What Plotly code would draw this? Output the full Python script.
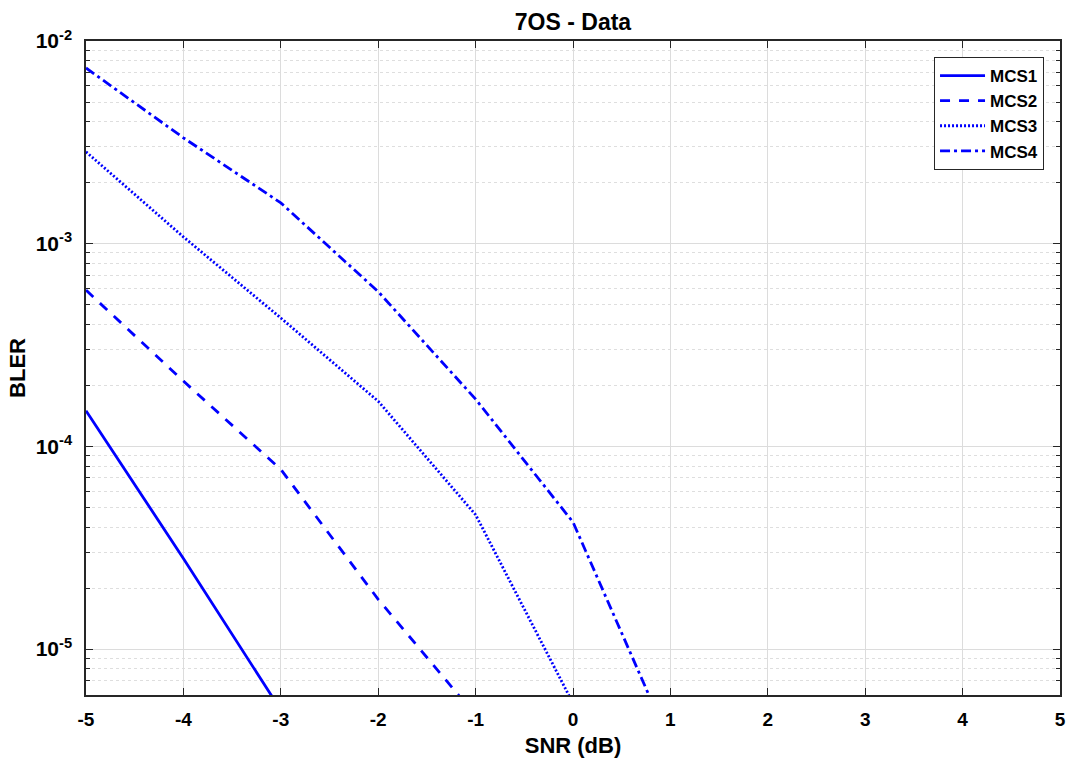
import plotly.graph_objects as go

snr = [-5, -4, -3, -2, -1, 0, 1]
mcs1 = [1.5e-4, 2.8e-5, 5.0e-6]
mcs2 = [5.9e-4, 2.1e-4, 7.7e-5, 1.76e-5, 4.7e-6]
mcs3 = [2.84e-3, 1.08e-3, 4.3e-4, 1.67e-4, 4.6e-5, 5.4e-6]
mcs4 = [7.36e-3, 3.33e-3, 1.59e-3, 5.8e-4, 1.71e-4, 4.23e-5, 3.4e-6]

names = ["MCS1", "MCS2", "MCS3", "MCS4"]
series = [mcs1, mcs2, mcs3, mcs4]
dashes = ["solid", "10px,9px", "2px,2px", "10px,4px,3px,4px"]

x_ticks = [-5, -4, -3, -2, -1, 0, 1, 2, 3, 4, 5]
x_labels = ["-5", "-4", "-3", "-2", "-1", "0", "1", "2", "3", "4", "5"]
y_ticks = [1e-5, 1e-4, 1e-3, 1e-2]
y_labels = ["10<sup>-5</sup>", "10<sup>-4</sup>", "10<sup>-3</sup>", "10<sup>-2</sup>"]

fig = go.Figure()
for i, (n, s, d) in enumerate(zip(names, series, dashes)):
    fig.add_trace(go.Scatter(x=snr[:len(s)], y=s, mode="lines", name=n, legendgroup=n,
                             line=dict(color="#0000ff", width=2.8, dash=d)))

font = "Liberation Sans, Arial, sans-serif"
axcol = "#262626"
fig.update_layout(
    width=1070, height=762,
    margin=dict(l=86, r=10, t=41, b=67, autoexpand=False),
    paper_bgcolor="white", plot_bgcolor="white",
    font=dict(family=font, color=axcol, size=14),
    title=dict(text="7OS - Data", x=0.5, xanchor="center", xref="paper",
               y=0.9715, yref="container", yanchor="middle",
               font=dict(size=23, color="black", weight="bold")),
    legend=dict(x=0.9836, y=0.9755, xanchor="right", yanchor="top",
                bordercolor=axcol, borderwidth=1, bgcolor="white",
                font=dict(size=17, color="black", weight="bold"),
                traceorder="grouped", tracegroupgap=0, itemwidth=45),
    showlegend=True,
)
fig.update_xaxes(
    range=[-5, 5], tickvals=x_ticks, ticktext=x_labels, automargin=False,
    showline=True, linecolor=axcol, linewidth=1.5, mirror="ticks",
    ticks="inside", ticklen=7, tickcolor=axcol,
    showgrid=True, gridcolor="#dcdcdc", gridwidth=1,
    zeroline=False, ticklabelstandoff=6,
    tickfont=dict(size=19, color="black", family=font, weight="bold"),
    title=dict(text="SNR (dB)", font=dict(size=22, color="black", weight="bold"), standoff=9),
)
fig.update_yaxes(
    type="log", range=[-5.2266, -2], tickvals=y_ticks, ticktext=y_labels, automargin=False,
    showline=True, linecolor=axcol, linewidth=1.5, mirror="ticks",
    ticks="inside", ticklen=7, tickcolor=axcol,
    showgrid=True, gridcolor="#dcdcdc", gridwidth=1,
    zeroline=False, ticklabelstandoff=8,
    tickfont=dict(size=21, color="black", family=font, weight="bold"),
    minor=dict(dtick="D1", showgrid=True, gridcolor="#dedede", griddash="dot",
               ticks="inside", ticklen=4, tickcolor=axcol),
    title=dict(text="BLER", font=dict(size=22, color="black", weight="bold"), standoff=4),
)
fig.write_html("out.html", config={"displayModeBar": False},
               post_script="document.body.style.margin='0px';")
